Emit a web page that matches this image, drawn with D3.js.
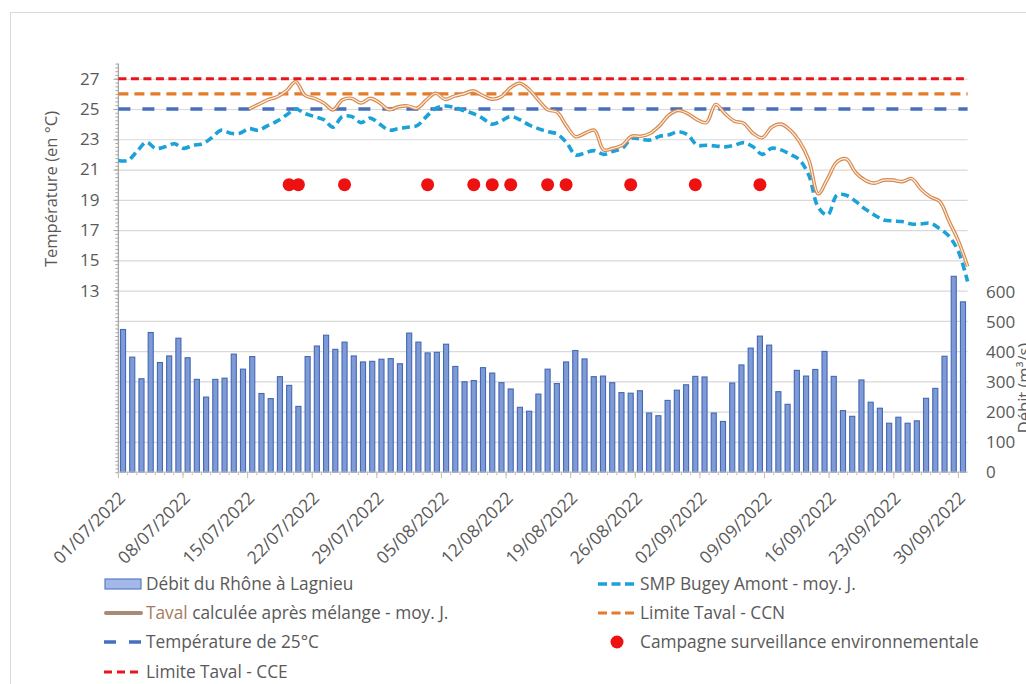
<!DOCTYPE html>
<html>
<head>
<meta charset="utf-8">
<script src="https://cdn.jsdelivr.net/npm/d3@7"></script>
<style>
  html, body { margin: 0; padding: 0; background: #fff; overflow: hidden; }
  svg { display: block; font-family: "Open Sans", Lato, sans-serif; }
</style>
</head>
<body>
<svg id="chart" width="1026" height="684"></svg>
<script>
// ---- Data ----------------------------------------------------------------
const tickLabels = ["01/07/2022","08/07/2022","15/07/2022","22/07/2022","29/07/2022",
  "05/08/2022","12/08/2022","19/08/2022","26/08/2022","02/09/2022","09/09/2022",
  "16/09/2022","23/09/2022","30/09/2022"];

// Débit du Rhône à Lagnieu (m3/s), one value per day from 01/07 to 30/09
const debitLagnieu = [475,383,311,465,365,387,446,381,309,250,
  309,313,393,343,385,262,245,318,289,219,
  385,420,456,409,433,387,367,369,376,378,
  361,463,433,397,399,426,352,301,305,348,
  330,298,277,216,203,260,343,295,367,405,
  377,318,320,298,265,263,271,197,188,239,
  273,291,319,317,197,169,297,357,413,453,
  423,268,226,339,320,342,402,319,205,186,
  307,233,213,163,183,163,171,246,279,386,
  652,567];

// SMP Bugey Amont - daily mean (°C)
const smpBugeyAmont = [21.6,21.6,22.2,22.8,22.4,22.5,22.7,22.4,22.6,22.7,
  23.1,23.6,23.4,23.4,23.7,23.6,23.9,24.2,24.6,25.0,
  24.7,24.5,24.3,23.8,24.5,24.5,24.1,24.4,24.0,23.6,
  23.7,23.8,23.9,24.5,25.05,25.2,25.1,24.9,24.7,24.4,
  24.0,24.2,24.5,24.3,23.95,23.7,23.5,23.35,22.8,21.96,
  22.1,22.25,22.0,22.2,22.4,23.07,23.0,22.95,23.2,23.3,
  23.5,23.3,22.62,22.6,22.56,22.5,22.6,22.78,22.5,22.0,
  22.4,22.3,22.0,21.63,20.6,18.5,18.0,19.3,19.3,18.9,
  18.4,18.0,17.67,17.6,17.56,17.4,17.4,17.45,17.1,16.6,
  15.6,13.6];

// Taval computed after mixing - daily mean (°C), available from 15/07
const tavalMelange = [null,null,null,null,null,null,null,null,null,null,
  null,null,null,null,25.0,25.3,25.6,25.8,26.2,26.8,
  25.9,25.7,25.4,24.95,25.6,25.7,25.4,25.7,25.4,24.95,
  25.15,25.2,25.05,25.6,26.04,25.64,25.85,26.0,26.2,25.9,
  25.65,25.8,26.4,26.7,26.3,25.6,24.95,24.8,23.9,23.17,
  23.4,23.6,22.3,22.4,22.6,23.2,23.2,23.4,23.9,24.6,
  24.9,24.7,24.3,24.1,25.3,24.7,24.2,24.06,23.4,23.1,
  23.8,24.0,23.6,22.84,21.6,19.4,20.4,21.5,21.7,20.8,
  20.3,20.1,20.3,20.3,20.2,20.4,19.7,19.2,18.9,17.6,
  16.3,14.6];

// Environmental monitoring campaigns
const campagneDates = ["19/07/2022","20/07/2022","25/07/2022","03/08/2022","08/08/2022",
  "10/08/2022","12/08/2022","16/08/2022","18/08/2022","25/08/2022","01/09/2022","08/09/2022"];
const campagneNiveau = 20;

const limiteCCE = 27;
const limiteCCN = 26;
const temperature25 = 25;

const tempTicks = [13,15,17,19,21,23,25,27];
const debitTicks = [0,100,200,300,400,500,600];

// ---- Layout ----------------------------------------------------------------
const svg = d3.select("#chart");
const plotLeft = 118.4, plotRight = 967.6, plotBottom = 472.2, plotTop = 63.6;
const grey = "#595959";
const font = "'Open Sans', Lato, sans-serif";
const fs = 17.3;

const fmt = d3.timeFormat("%d/%m/%Y");
const days = d3.timeDay.range(new Date(2022, 6, 1), new Date(2022, 9, 1));

const x = d3.scaleBand().domain(days.map(fmt)).range([plotLeft, plotRight])
  .paddingInner(0.45).paddingOuter(0.225);
const xt = d3.scaleTime().domain([days[0], days[days.length - 1]]).range([plotLeft, plotRight]);
const yT = d3.scaleLinear().domain([1, 28]).range([plotBottom, plotTop]);
const yQ = d3.scaleLinear().domain([0, 1360]).range([plotBottom, plotTop]);

// chart frame
svg.append("rect").attr("x", 10.5).attr("y", 12.5).attr("width", 1030).attr("height", 690)
  .attr("fill", "none").attr("stroke", "#d9d9d9").attr("stroke-width", 1);

// horizontal gridlines
svg.append("g").attr("transform", `translate(${plotLeft},0)`)
  .call(d3.axisLeft(yT).tickValues(d3.range(3, 28, 2)).tickSize(-(plotRight - plotLeft)).tickFormat(""))
  .call(g => g.select(".domain").remove())
  .call(g => g.selectAll("line").attr("stroke", "#d9d9d9").attr("stroke-width", 1.2));

// bars: river flow
const edge = d => x(d) - (x.step() - x.bandwidth()) / 2;
svg.append("g").selectAll("rect").data(days).join("rect")
  .attr("x", d => x(fmt(d)))
  .attr("y", (d, i) => yQ(debitLagnieu[i]))
  .attr("width", x.bandwidth())
  .attr("height", (d, i) => plotBottom - yQ(debitLagnieu[i]))
  .attr("fill", "#7e9bd8").attr("stroke", "#4468b2").attr("stroke-width", 1.1);

// left axis
svg.append("g").attr("transform", `translate(${plotLeft},0)`)
  .call(d3.axisLeft(yT).tickValues(d3.range(1, 28.01, 0.25)).tickSize(3).tickFormat(""))
  .call(g => g.selectAll("line").attr("stroke", "#a6a6a6"))
  .call(g => g.select(".domain").attr("stroke", "#a6a6a6").attr("stroke-width", 1.3)
    .attr("d", `M0,${plotBottom}V${plotTop}`));
svg.append("g").attr("transform", `translate(${plotLeft},0)`)
  .call(d3.axisLeft(yT).tickValues(tempTicks).tickSize(5).tickPadding(14))
  .call(g => g.select(".domain").remove())
  .call(g => g.selectAll("line").attr("stroke", "#a6a6a6"))
  .call(g => g.selectAll("text").attr("fill", grey).attr("font-size", 17).attr("font-family", font));

// right axis labels
svg.append("g").attr("transform", "translate(968,0)")
  .call(d3.axisRight(yQ).tickValues(debitTicks).tickSize(0).tickPadding(18))
  .call(g => g.select(".domain").remove())
  .call(g => g.selectAll("text").attr("fill", grey).attr("font-size", 17).attr("font-family", font));

// bottom axis
const axB = svg.append("g");
axB.append("line").attr("x1", plotLeft).attr("x2", plotRight).attr("y1", plotBottom).attr("y2", plotBottom)
  .attr("stroke", "#bfbfbf").attr("stroke-width", 1.2);
axB.selectAll("line.minor").data(days).join("line").attr("class", "minor")
  .attr("x1", d => edge(fmt(d))).attr("x2", d => edge(fmt(d)))
  .attr("y1", plotBottom).attr("y2", plotBottom + 3).attr("stroke", "#bfbfbf");
axB.selectAll("line.major").data(tickLabels).join("line").attr("class", "major")
  .attr("x1", d => edge(d)).attr("x2", d => edge(d))
  .attr("y1", plotBottom).attr("y2", plotBottom + 6).attr("stroke", "#bfbfbf");
axB.selectAll("text").data(tickLabels).join("text")
  .attr("transform", d => `translate(${edge(d) + 8},${plotBottom + 27}) rotate(-45)`)
  .attr("text-anchor", "end").attr("fill", grey).attr("font-size", 17.5)
  .text(d => d);

// threshold lines
const hline = (v, color, dash, w) => svg.append("line")
  .attr("x1", plotLeft).attr("x2", plotRight).attr("y1", yT(v)).attr("y2", yT(v))
  .attr("stroke", color).attr("stroke-width", w).attr("stroke-dasharray", dash);
hline(temperature25, "#4670bf", "12,12", 3.6);
hline(limiteCCN, "#e37b2b", "10,6", 3.2);
hline(limiteCCE, "#e8161c", "8,4.5", 3.2);

// temperature curves
const lineGen = vals => d3.line()
  .defined((d, i) => vals[i] != null)
  .x(d => xt(d)).y((d, i) => yT(vals[i]))
  .curve(d3.curveCatmullRom.alpha(0.5));

svg.append("path").attr("d", lineGen(smpBugeyAmont)(days))
  .attr("fill", "none").attr("stroke", "#1ca2d8").attr("stroke-width", 3.6)
  .attr("stroke-dasharray", "8,4.5");

const tavalPath = lineGen(tavalMelange)(days);
svg.append("path").attr("d", tavalPath).attr("fill", "none")
  .attr("stroke", "#d88a4e").attr("stroke-width", 3.6).attr("stroke-linejoin", "round");
svg.append("path").attr("d", tavalPath).attr("fill", "none")
  .attr("stroke", "#fbeee4").attr("stroke-width", 1.2).attr("stroke-linejoin", "round");

// monitoring campaigns
svg.append("g").selectAll("circle").data(campagneDates).join("circle")
  .attr("cx", d => x(d) + x.bandwidth() / 2).attr("cy", yT(campagneNiveau)).attr("r", 6.5)
  .attr("fill", "#ee1111");

// axis titles
svg.append("text").attr("transform", "translate(57,189) rotate(-90)")
  .attr("text-anchor", "middle").attr("fill", grey).attr("font-size", 16.5)
  .text("Température (en °C)");
svg.append("text").attr("transform", "translate(1030,388) rotate(-90)")
  .attr("text-anchor", "middle").attr("fill", grey).attr("font-size", 16.5)
  .text("Débit (m³/s)");

// legend
const lg = svg.append("g").attr("font-size", fs).attr("fill", grey);
const rows = [584, 613, 642, 672];
lg.append("rect").attr("x", 105).attr("y", rows[0] - 5).attr("width", 36).attr("height", 10)
  .attr("fill", "#a3b8e8").attr("stroke", "#5a7cc4").attr("stroke-width", 1.2);
lg.append("text").attr("x", 146).attr("y", rows[0]).attr("dy", "0.35em").text("Débit du Rhône à Lagnieu");

lg.append("line").attr("x1", 106).attr("x2", 141).attr("y1", rows[1]).attr("y2", rows[1])
  .attr("stroke", "#a88a76").attr("stroke-width", 4).attr("stroke-linecap", "round");
const t2 = lg.append("text").attr("x", 146).attr("y", rows[1]).attr("dy", "0.35em");
t2.append("tspan").attr("fill", "#a47c60").text("Taval");
t2.append("tspan").text(" calculée après mélange - moy. J.");

lg.append("line").attr("x1", 104).attr("x2", 142).attr("y1", rows[2]).attr("y2", rows[2])
  .attr("stroke", "#4670bf").attr("stroke-width", 3.6).attr("stroke-dasharray", "12,13");
lg.append("text").attr("x", 146).attr("y", rows[2]).attr("dy", "0.35em").text("Température de 25°C");

lg.append("line").attr("x1", 104).attr("x2", 142).attr("y1", rows[3]).attr("y2", rows[3])
  .attr("stroke", "#e8161c").attr("stroke-width", 3.2).attr("stroke-dasharray", "8,5");
lg.append("text").attr("x", 146).attr("y", rows[3]).attr("dy", "0.35em").text("Limite Taval - CCE");

lg.append("line").attr("x1", 598).attr("x2", 636).attr("y1", rows[0]).attr("y2", rows[0])
  .attr("stroke", "#1ca2d8").attr("stroke-width", 3.6).attr("stroke-dasharray", "9,4.5");
lg.append("text").attr("x", 640).attr("y", rows[0]).attr("dy", "0.35em").text("SMP Bugey Amont - moy. J.");

lg.append("line").attr("x1", 598).attr("x2", 636).attr("y1", rows[1]).attr("y2", rows[1])
  .attr("stroke", "#e37b2b").attr("stroke-width", 3.2).attr("stroke-dasharray", "9,4.5");
lg.append("text").attr("x", 640).attr("y", rows[1]).attr("dy", "0.35em").text("Limite Taval - CCN");

lg.append("circle").attr("cx", 617).attr("cy", rows[2]).attr("r", 6.5).attr("fill", "#ee1111");
lg.append("text").attr("x", 640).attr("y", rows[2]).attr("dy", "0.35em").text("Campagne surveillance environnementale");
</script>
</body>
</html>
